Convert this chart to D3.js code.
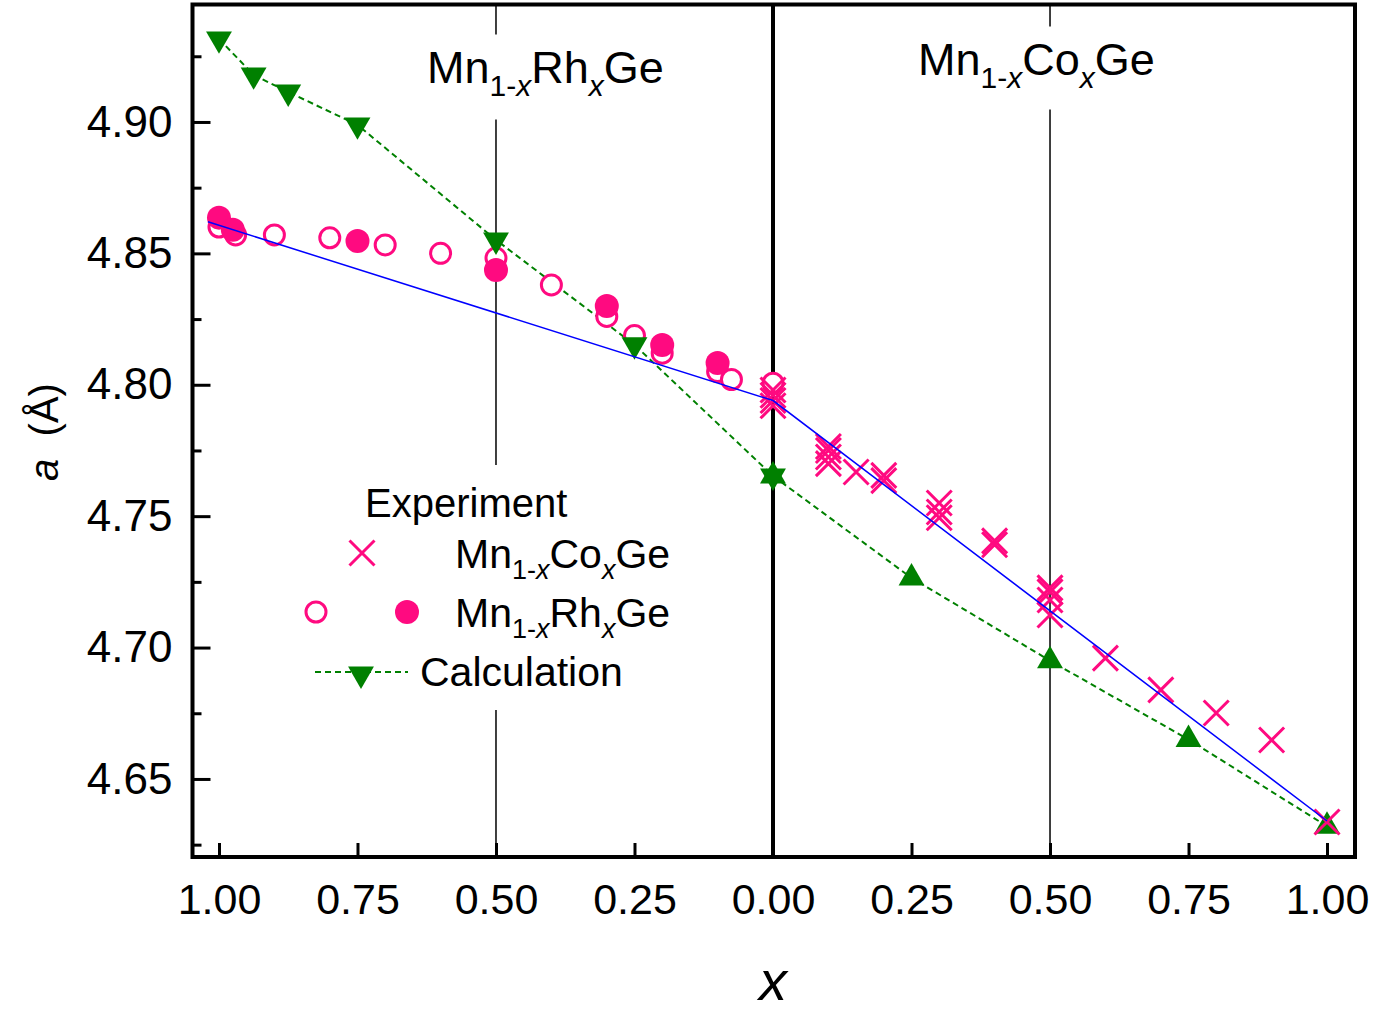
<!DOCTYPE html>
<html>
<head>
<meta charset="utf-8">
<script src="https://cdn.jsdelivr.net/npm/d3@7"></script>
<style>
  body { margin: 0; background: #fff; }
  svg { display: block; font-family: "Liberation Sans", Arial, Helvetica, sans-serif; }
</style>
</head>
<body>
<div id="chart"></div>
<script>
// position on the combined axis: Rh side is -x, Co side is +x
const xTicks = [-1, -0.75, -0.5, -0.25, 0, 0.25, 0.5, 0.75, 1];
const yTicks = [4.65, 4.70, 4.75, 4.80, 4.85, 4.90];
const yMinorTicks = [4.625, 4.675, 4.725, 4.775, 4.825, 4.875, 4.925];

// calculation (Rh side, down triangles)
const calcRhX = [-1.0, -0.9375, -0.875, -0.75, -0.5, -0.25, 0];
const calcRhA = [4.9316, 4.9179, 4.9114, 4.8989, 4.8551, 4.8152, 4.7653];
// calculation (Co side, up triangles)
const calcCoX = [0, 0.25, 0.5, 0.75, 1.0];
const calcCoA = [4.7653, 4.7265, 4.6950, 4.6650, 4.6320];

// experiment Mn1-xRhxGe, open circles
const rhOpenX = [-1.0, -0.97, -0.9, -0.8, -0.7, -0.6, -0.5, -0.4, -0.3, -0.25, -0.2, -0.1, -0.075, 0];
const rhOpenA = [4.8600, 4.8570, 4.8570, 4.8559, 4.8532, 4.8500, 4.8482, 4.8380, 4.8260, 4.8187, 4.8120, 4.8050, 4.8020, 4.8006];
// experiment Mn1-xRhxGe, filled circles
const rhFillX = [-1.0, -0.975, -0.75, -0.5, -0.3, -0.2, -0.1];
const rhFillA = [4.8636, 4.8590, 4.8547, 4.8437, 4.8300, 4.8151, 4.8083];

// experiment Mn1-xCoxGe, crosses
const coX = [0, 0, 0, 0, 0.1, 0.1, 0.1, 0.1, 0.15, 0.2, 0.2, 0.3, 0.3, 0.3, 0.4, 0.4, 0.5, 0.5, 0.5, 0.5, 0.6, 0.7, 0.8, 0.9, 1.0];
const coA = [4.798, 4.796, 4.794, 4.792, 4.7765, 4.775, 4.7725, 4.770, 4.7668, 4.7655, 4.7635, 4.7550, 4.7516, 4.7494, 4.7406, 4.7391, 4.7227, 4.7212, 4.7181, 4.7124, 4.6960, 4.6839, 4.6751, 4.6648, 4.6336];

// blue guide line
const guideX = [-1.02, 0, 1.0];
const guideA = [4.862, 4.794, 4.634];

const pink = "#ff0a80", green = "#008000", blue = "#0000ff";

const W = 1378, H = 1021;
const margin = { top: 4.5, right: 23, bottom: 164, left: 192.5 },
      width = W - margin.left - margin.right,
      height = H - margin.top - margin.bottom;

const svg = d3.select("#chart").append("svg")
    .attr("width", W)
    .attr("height", H)
  .append("g")
    .attr("transform", "translate(" + margin.left + "," + margin.top + ")");

const x = d3.scaleLinear().domain([-1.0478, 1.0505]).range([0, width]);
const y = d3.scaleLinear().domain([4.6203, 4.9447]).range([height, 0]);

// vertical guide lines
svg.append("line")
    .attr("x1", x(0)).attr("x2", x(0)).attr("y1", 0).attr("y2", height)
    .attr("stroke", "#000").attr("stroke-width", 4);
[-0.5, 0.5].forEach(v => {
  svg.append("line")
      .attr("x1", x(v)).attr("x2", x(v)).attr("y1", 0).attr("y2", height)
      .attr("stroke", "#000").attr("stroke-width", 1.5);
});

// formula text with subscripts, e.g. Mn(1-x)Rh(x)Ge
function formulaParts(g, px, py, metal, size) {
  const t = g.append("text").attr("x", px).attr("y", py)
      .style("font-size", size + "px").attr("fill", "#000");
  const sub = Math.round(size * 0.66), off = size * 0.28;
  t.append("tspan").text("Mn");
  t.append("tspan").text("1-").style("font-size", sub + "px").attr("dy", off);
  t.append("tspan").text("x").style("font-size", sub + "px").style("font-style", "italic");
  t.append("tspan").text(metal).attr("dy", -off);
  t.append("tspan").text("x").style("font-size", sub + "px").style("font-style", "italic").attr("dy", off);
  t.append("tspan").text("Ge").attr("dy", -off);
  return t;
}

// white boxes behind labels (break the thin vertical lines)
const boxes = [
  [x(-0.5) - 80, 30, 260, 85],
  [x(0.5) - 135, 22, 260, 83],
  [300 - margin.left, 465 - margin.top, 385, 245]
];
boxes.forEach(b => {
  svg.append("rect").attr("x", b[0]).attr("y", b[1]).attr("width", b[2]).attr("height", b[3])
      .attr("fill", "#fff");
});

formulaParts(svg, 427 - margin.left, 83 - margin.top, "Rh", 45);
formulaParts(svg, 918 - margin.left, 75 - margin.top, "Co", 45);

// calculation dashed line
const lineGen = d3.line().x(d => x(d[0])).y(d => y(d[1]));
const calcPts = calcRhX.map((v, i) => [v, calcRhA[i]])
    .concat(calcCoX.slice(1).map((v, i) => [v, calcCoA[i + 1]]));
svg.append("path").datum(calcPts)
    .attr("d", lineGen)
    .attr("fill", "none").attr("stroke", green).attr("stroke-width", 2)
    .attr("stroke-dasharray", "6,4");

// open circles
svg.selectAll(".rh-open")
  .data(rhOpenX.map((v, i) => [v, rhOpenA[i]]))
  .enter().append("circle")
    .attr("class", "rh-open")
    .attr("cx", d => x(d[0])).attr("cy", d => y(d[1])).attr("r", 10)
    .attr("fill", "#fff").attr("stroke", pink).attr("stroke-width", 3);

// filled circles
svg.selectAll(".rh-fill")
  .data(rhFillX.map((v, i) => [v, rhFillA[i]]))
  .enter().append("circle")
    .attr("class", "rh-fill")
    .attr("cx", d => x(d[0])).attr("cy", d => y(d[1])).attr("r", 12)
    .attr("fill", pink);

// triangles
const tri = d3.symbol().type(d3.symbolTriangle).size(290);
svg.selectAll(".calc-rh")
  .data(calcRhX.map((v, i) => [v, calcRhA[i]]))
  .enter().append("path")
    .attr("class", "calc-rh")
    .attr("d", tri)
    .attr("transform", d => "translate(" + x(d[0]) + "," + y(d[1]) + ") rotate(180)")
    .attr("fill", green);
svg.selectAll(".calc-co")
  .data(calcCoX.map((v, i) => [v, calcCoA[i]]))
  .enter().append("path")
    .attr("class", "calc-co")
    .attr("d", tri)
    .attr("transform", d => "translate(" + x(d[0]) + "," + y(d[1]) + ")")
    .attr("fill", green);

// crosses
const crossPath = "M-12.5,-12.5L12.5,12.5M-12.5,12.5L12.5,-12.5";
svg.selectAll(".co")
  .data(coX.map((v, i) => [v, coA[i]]))
  .enter().append("path")
    .attr("class", "co")
    .attr("d", crossPath)
    .attr("transform", d => "translate(" + x(d[0]) + "," + y(d[1]) + ")")
    .attr("fill", "none").attr("stroke", pink).attr("stroke-width", 3);

// blue line
svg.append("path").datum(guideX.map((v, i) => [v, guideA[i]]))
    .attr("d", lineGen)
    .attr("fill", "none").attr("stroke", blue).attr("stroke-width", 1.5);

// axes
const xAxis = svg.append("g")
    .attr("transform", "translate(0," + height + ")")
    .call(d3.axisBottom(x).tickValues(xTicks).tickFormat(d => Math.abs(d).toFixed(2))
      .tickSizeInner(-14).tickSizeOuter(0).tickPadding(26));
xAxis.select(".domain").remove();
xAxis.selectAll("line").attr("stroke-width", 3);
xAxis.selectAll("text").style("font-size", "43px").attr("fill", "#000")
    .style("font-family", "'Liberation Sans', Arial, sans-serif");

const yAxis = svg.append("g")
    .call(d3.axisLeft(y).tickValues(yTicks).tickFormat(d3.format(".2f"))
      .tickSizeInner(-18).tickSizeOuter(0).tickPadding(20));
yAxis.select(".domain").remove();
yAxis.selectAll("line").attr("stroke-width", 3);
yAxis.selectAll("text").style("font-size", "44px").attr("fill", "#000")
    .style("font-family", "'Liberation Sans', Arial, sans-serif");

const yMinor = svg.append("g")
    .call(d3.axisLeft(y).tickValues(yMinorTicks).tickFormat("").tickSizeInner(-9).tickSizeOuter(0));
yMinor.select(".domain").remove();
yMinor.selectAll("line").attr("stroke-width", 3);

// frame
svg.append("rect")
    .attr("width", width).attr("height", height)
    .attr("fill", "none").attr("stroke", "#000").attr("stroke-width", 4);

// axis labels
svg.append("text")
    .attr("x", x(0)).attr("y", 1000 - margin.top)
    .style("text-anchor", "middle")
    .style("font-size", "56px").style("font-style", "italic")
    .text("x");

const yl = svg.append("text")
    .attr("transform", "translate(" + (58 - margin.left) + "," + (432 - margin.top) + ") rotate(-90)")
    .style("text-anchor", "middle")
    .style("font-size", "40px");
yl.append("tspan").style("font-style", "italic").text("a");
yl.append("tspan").text("  (Å)").attr("xml:space", "preserve");

// legend
const lg = svg.append("g").attr("transform", "translate(" + (-margin.left) + "," + (-margin.top) + ")");
lg.append("text").attr("x", 365).attr("y", 517).style("font-size", "40px").text("Experiment");
lg.append("path").attr("d", crossPath)
    .attr("transform", "translate(362,553)")
    .attr("fill", "none").attr("stroke", pink).attr("stroke-width", 3);
formulaParts(lg, 455, 568, "Co", 41);
lg.append("circle").attr("cx", 316).attr("cy", 612).attr("r", 10)
    .attr("fill", "#fff").attr("stroke", pink).attr("stroke-width", 3);
lg.append("circle").attr("cx", 407).attr("cy", 612).attr("r", 12).attr("fill", pink);
formulaParts(lg, 455, 627, "Rh", 41);
lg.append("line").attr("x1", 315).attr("x2", 408).attr("y1", 672).attr("y2", 672)
    .attr("stroke", green).attr("stroke-width", 2).attr("stroke-dasharray", "6,4");
lg.append("path").attr("d", tri).attr("transform", "translate(361,674) rotate(180)").attr("fill", green);
lg.append("text").attr("x", 420).attr("y", 686).style("font-size", "41px").text("Calculation");
</script>
</body>
</html>
